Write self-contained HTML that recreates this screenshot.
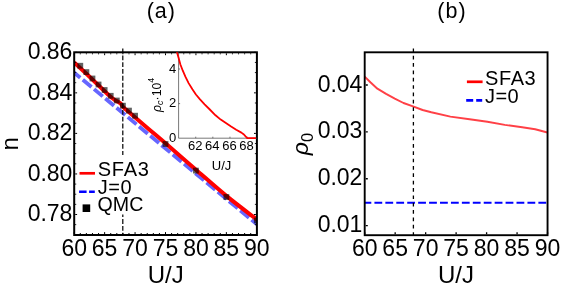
<!DOCTYPE html>
<html><head><meta charset="utf-8"><title>fig</title>
<style>html,body{margin:0;padding:0;background:#fff;}svg{display:block;will-change:transform;}</style></head>
<body>
<svg width="575" height="290" viewBox="0 0 575 290" font-family="Liberation Sans, sans-serif" fill="#000">
<rect width="575" height="290" fill="#fff"/>
<g clip-path="url(#ca)">
<path d="M71.55,70.47 L257.9,225.13" stroke="#6666ff" stroke-width="3.8" stroke-dasharray="11.3 3.32" fill="none"/>
<path d="M74.2,62.5 L88,75.3 L108,94.5 L112.1,98 L115.6,100.6 L118.3,101.8 L120.8,103.7 L122.8,106.6 L125.9,109.6 C129.58,112.73 141.35,122.75 148,128.4 C154.65,134.05 157.85,136.65 165.8,143.5 C173.75,150.35 185.50,160.68 195.7,169.5 C205.90,178.32 216.80,188.05 227,196.4 C237.20,204.75 251.92,215.73 256.9,219.6" stroke="#ff0000" stroke-width="4" stroke-linejoin="round" fill="none"/>
<rect x="77.39" y="62.85" width="5.8" height="5.8" fill="#000" fill-opacity="0.62"/>
<rect x="83.47" y="69.20" width="5.8" height="5.8" fill="#000" fill-opacity="0.62"/>
<rect x="89.56" y="75.60" width="5.8" height="5.8" fill="#000" fill-opacity="0.62"/>
<rect x="95.65" y="81.60" width="5.8" height="5.8" fill="#000" fill-opacity="0.62"/>
<rect x="101.73" y="87.10" width="5.8" height="5.8" fill="#000" fill-opacity="0.62"/>
<rect x="107.82" y="92.90" width="5.8" height="5.8" fill="#000" fill-opacity="0.62"/>
<rect x="113.91" y="97.60" width="5.8" height="5.8" fill="#000" fill-opacity="0.62"/>
<rect x="119.99" y="102.80" width="5.8" height="5.8" fill="#000" fill-opacity="0.62"/>
<rect x="126.08" y="107.70" width="5.8" height="5.8" fill="#000" fill-opacity="0.62"/>
<rect x="132.17" y="112.80" width="5.8" height="5.8" fill="#000" fill-opacity="0.62"/>
<rect x="162.60" y="141.10" width="5.8" height="5.8" fill="#000" fill-opacity="0.62"/>
<rect x="193.03" y="167.70" width="5.8" height="5.8" fill="#000" fill-opacity="0.62"/>
<rect x="223.47" y="194.10" width="5.8" height="5.8" fill="#000" fill-opacity="0.62"/>
<rect x="253.90" y="217.60" width="5.8" height="5.8" fill="#000" fill-opacity="0.62"/>
</g>
<path d="M122.8,48.58 V235.0" stroke="#000" stroke-width="1.2" stroke-dasharray="4.8 2.02" fill="none"/>
<rect x="77" y="155" width="73" height="59.5" fill="#fff"/>
<path d="M74.20,234.0 v-1.9 M74.20,53.3 v1.9 M80.29,234.0 v-1.0 M80.29,53.3 v1.0 M86.37,234.0 v-1.0 M86.37,53.3 v1.0 M92.46,234.0 v-1.0 M92.46,53.3 v1.0 M98.55,234.0 v-1.0 M98.55,53.3 v1.0 M104.63,234.0 v-1.9 M104.63,53.3 v1.9 M110.72,234.0 v-1.0 M110.72,53.3 v1.0 M116.81,234.0 v-1.0 M116.81,53.3 v1.0 M122.89,234.0 v-1.0 M122.89,53.3 v1.0 M128.98,234.0 v-1.0 M128.98,53.3 v1.0 M135.07,234.0 v-1.9 M135.07,53.3 v1.9 M141.15,234.0 v-1.0 M141.15,53.3 v1.0 M147.24,234.0 v-1.0 M147.24,53.3 v1.0 M153.33,234.0 v-1.0 M153.33,53.3 v1.0 M159.41,234.0 v-1.0 M159.41,53.3 v1.0 M165.50,234.0 v-1.9 M165.50,53.3 v1.9 M171.59,234.0 v-1.0 M171.59,53.3 v1.0 M177.67,234.0 v-1.0 M177.67,53.3 v1.0 M183.76,234.0 v-1.0 M183.76,53.3 v1.0 M189.85,234.0 v-1.0 M189.85,53.3 v1.0 M195.93,234.0 v-1.9 M195.93,53.3 v1.9 M202.02,234.0 v-1.0 M202.02,53.3 v1.0 M208.11,234.0 v-1.0 M208.11,53.3 v1.0 M214.19,234.0 v-1.0 M214.19,53.3 v1.0 M220.28,234.0 v-1.0 M220.28,53.3 v1.0 M226.37,234.0 v-1.9 M226.37,53.3 v1.9 M232.45,234.0 v-1.0 M232.45,53.3 v1.0 M238.54,234.0 v-1.0 M238.54,53.3 v1.0 M244.63,234.0 v-1.0 M244.63,53.3 v1.0 M250.71,234.0 v-1.0 M250.71,53.3 v1.0 M256.80,234.0 v-1.9 M256.80,53.3 v1.9 M75.2,234.78 h1.0 M255.90,234.78 h-1.0 M75.2,224.64 h1.0 M255.90,224.64 h-1.0 M75.2,214.50 h1.9 M255.90,214.50 h-1.9 M75.2,204.36 h1.0 M255.90,204.36 h-1.0 M75.2,194.22 h1.0 M255.90,194.22 h-1.0 M75.2,184.09 h1.0 M255.90,184.09 h-1.0 M75.2,173.95 h1.9 M255.90,173.95 h-1.9 M75.2,163.81 h1.0 M255.90,163.81 h-1.0 M75.2,153.67 h1.0 M255.90,153.67 h-1.0 M75.2,143.54 h1.0 M255.90,143.54 h-1.0 M75.2,133.40 h1.9 M255.90,133.40 h-1.9 M75.2,123.26 h1.0 M255.90,123.26 h-1.0 M75.2,113.13 h1.0 M255.90,113.13 h-1.0 M75.2,102.99 h1.0 M255.90,102.99 h-1.0 M75.2,92.85 h1.9 M255.90,92.85 h-1.9 M75.2,82.71 h1.0 M255.90,82.71 h-1.0 M75.2,72.58 h1.0 M255.90,72.58 h-1.0 M75.2,62.44 h1.0 M255.90,62.44 h-1.0 M75.2,52.30 h1.9 M255.90,52.30 h-1.9" stroke="#000" stroke-width="1" fill="none"/>
<rect x="74.2" y="52.3" width="182.70" height="182.70" fill="none" stroke="#000" stroke-width="2"/>
<clipPath id="ca"><rect x="74.2" y="52.3" width="182.70" height="182.70"/></clipPath>
<path d="M178.6,52.3 V138.2 H256.9" stroke="#555" stroke-width="0.8" fill="none"/>
<path d="M195.72,138.2 v-1.5 M212.84,138.2 v-1.5 M229.96,138.2 v-1.5 M247.08,138.2 v-1.5 M178.6,103.60 h1.5 M178.6,69.00 h1.5" stroke="#555" stroke-width="0.8" fill="none"/>
<path d="M176.2,50.5 L177.2,52.9 L178.7,58.3 L180.4,64.5 L182.8,70.7 L185.5,76.9 L188.6,83.1 L192.4,89.3 L195.9,94.5 L200,99.3 L204.6,104.3 L209.3,109 L215.5,115.3 L220.7,119.6 L225.9,123.1 L231.1,126.6 L236.2,129.8 L241.4,132.6 L243.9,134.5 L245.6,136.4 L247.3,138.1 L256,138.1" stroke="#ff0000" stroke-width="1.8" stroke-linejoin="round" fill="none" clip-path="url(#ca)"/>
<text x="195.22" y="150.3" font-size="13" text-anchor="middle">62</text>
<text x="212.34" y="150.3" font-size="13" text-anchor="middle">64</text>
<text x="229.46" y="150.3" font-size="13" text-anchor="middle">66</text>
<text x="246.58" y="150.3" font-size="13" text-anchor="middle">68</text>
<text x="176.3" y="142.00" font-size="13" text-anchor="end">0</text>
<text x="176.3" y="107.40" font-size="13" text-anchor="end">2</text>
<text x="176.3" y="72.80" font-size="13" text-anchor="end">4</text>
<text x="221.6" y="169.6" font-size="13" text-anchor="middle">U/J</text>
<text transform="translate(160.6,111.9) rotate(-90)" font-size="12.2"><tspan font-style="italic">ρ</tspan><tspan font-style="italic" font-size="9" dy="2.5">c</tspan><tspan dy="-2.5">·10</tspan><tspan font-size="8.8" dy="-6.3">4</tspan></text>
<path d="M79.5,173.3 H95" stroke="#ff0000" stroke-width="2.7"/>
<path d="M79.1,191.7 H94.8" stroke="#0000ff" stroke-width="2.6" stroke-dasharray="7.5 2.5"/>
<rect x="82.6" y="204.4" width="7.6" height="7.6" fill="#000"/>
<text x="97.8" y="175.9" font-size="20" letter-spacing="0.7">SFA3</text>
<text x="97.8" y="194" font-size="20" letter-spacing="0.5">J=0</text>
<text x="97.6" y="210.9" font-size="19.6">QMC</text>
<text x="74.20" y="255.5" font-size="23" text-anchor="middle">60</text>
<text x="104.63" y="255.5" font-size="23" text-anchor="middle">65</text>
<text x="135.07" y="255.5" font-size="23" text-anchor="middle">70</text>
<text x="165.50" y="255.5" font-size="23" text-anchor="middle">75</text>
<text x="195.93" y="255.5" font-size="23" text-anchor="middle">80</text>
<text x="226.37" y="255.5" font-size="23" text-anchor="middle">85</text>
<text x="256.80" y="255.5" font-size="23" text-anchor="middle">90</text>
<text x="72.4" y="221.30" font-size="23" text-anchor="end">0.78</text>
<text x="72.4" y="180.75" font-size="23" text-anchor="end">0.80</text>
<text x="72.4" y="140.20" font-size="23" text-anchor="end">0.82</text>
<text x="72.4" y="99.65" font-size="23" text-anchor="end">0.84</text>
<text x="72.4" y="59.10" font-size="23" text-anchor="end">0.86</text>
<text x="165.65" y="283.3" font-size="24" text-anchor="middle">U/J</text>
<text x="161.3" y="17.9" font-size="21.5" letter-spacing="1" text-anchor="middle">(a)</text>
<text transform="translate(17.9,143.8) rotate(-90)" font-size="24" text-anchor="middle">n</text>
<path d="M364.7,76.6 L370.4,82.3 L377.4,88.7 L386.1,93.9 L394.8,98.6 L403.5,103 L413,106.3 L422.6,110 L431.3,112.3 L450.4,116.6 L469.6,119.2 L487.4,121.7 L504.8,124.9 L522.2,127.3 L535.2,129.2 L547.4,132.5" stroke="#ff4046" stroke-width="1.95" stroke-linejoin="round" fill="none"/>
<path d="M364.2,202.75 H547.55" stroke="#0000ff" stroke-width="2.2" stroke-dasharray="7.8 3.13" stroke-dashoffset="0.7" fill="none"/>
<path d="M413.4,48.40 V235.2" stroke="#000" stroke-width="1.3" stroke-dasharray="3.7 3.65" fill="none"/>
<path d="M364.70,234.2 v-1.9 M395.17,234.2 v-1.9 M425.65,234.2 v-1.9 M456.12,234.2 v-1.9 M486.60,234.2 v-1.9 M517.07,234.2 v-1.9 M547.55,234.2 v-1.9 M365.7,225.60 h2.1 M365.7,178.73 h2.1 M365.7,131.87 h2.1 M365.7,85.00 h2.1" stroke="#000" stroke-width="1.3" fill="none"/>
<rect x="364.7" y="52.3" width="182.85" height="182.90" fill="none" stroke="#000" stroke-width="1.9"/>
<path d="M466.9,81.8 H482.6" stroke="#ff0000" stroke-width="2.7"/>
<path d="M466.2,100.4 H482.2" stroke="#0000ff" stroke-width="2.6" stroke-dasharray="7 3"/>
<text x="485" y="84.6" font-size="20" letter-spacing="0.6">SFA3</text>
<text x="485" y="102.7" font-size="20" letter-spacing="0.4">J=0</text>
<text x="364.70" y="255.5" font-size="23" text-anchor="middle">60</text>
<text x="395.17" y="255.5" font-size="23" text-anchor="middle">65</text>
<text x="425.65" y="255.5" font-size="23" text-anchor="middle">70</text>
<text x="456.12" y="255.5" font-size="23" text-anchor="middle">75</text>
<text x="486.60" y="255.5" font-size="23" text-anchor="middle">80</text>
<text x="517.07" y="255.5" font-size="23" text-anchor="middle">85</text>
<text x="547.55" y="255.5" font-size="23" text-anchor="middle">90</text>
<text x="362.4" y="232.20" font-size="23" text-anchor="end">0.01</text>
<text x="362.4" y="185.33" font-size="23" text-anchor="end">0.02</text>
<text x="362.4" y="138.47" font-size="23" text-anchor="end">0.03</text>
<text x="362.4" y="91.60" font-size="23" text-anchor="end">0.04</text>
<text x="456" y="283.3" font-size="24" text-anchor="middle">U/J</text>
<text x="452" y="17.9" font-size="21.5" letter-spacing="1" text-anchor="middle">(b)</text>
<text transform="translate(308,155.2) rotate(-90)" font-size="23"><tspan font-style="italic">ρ</tspan><tspan font-size="16.5" dy="5">0</tspan></text>
</svg>
</body></html>
